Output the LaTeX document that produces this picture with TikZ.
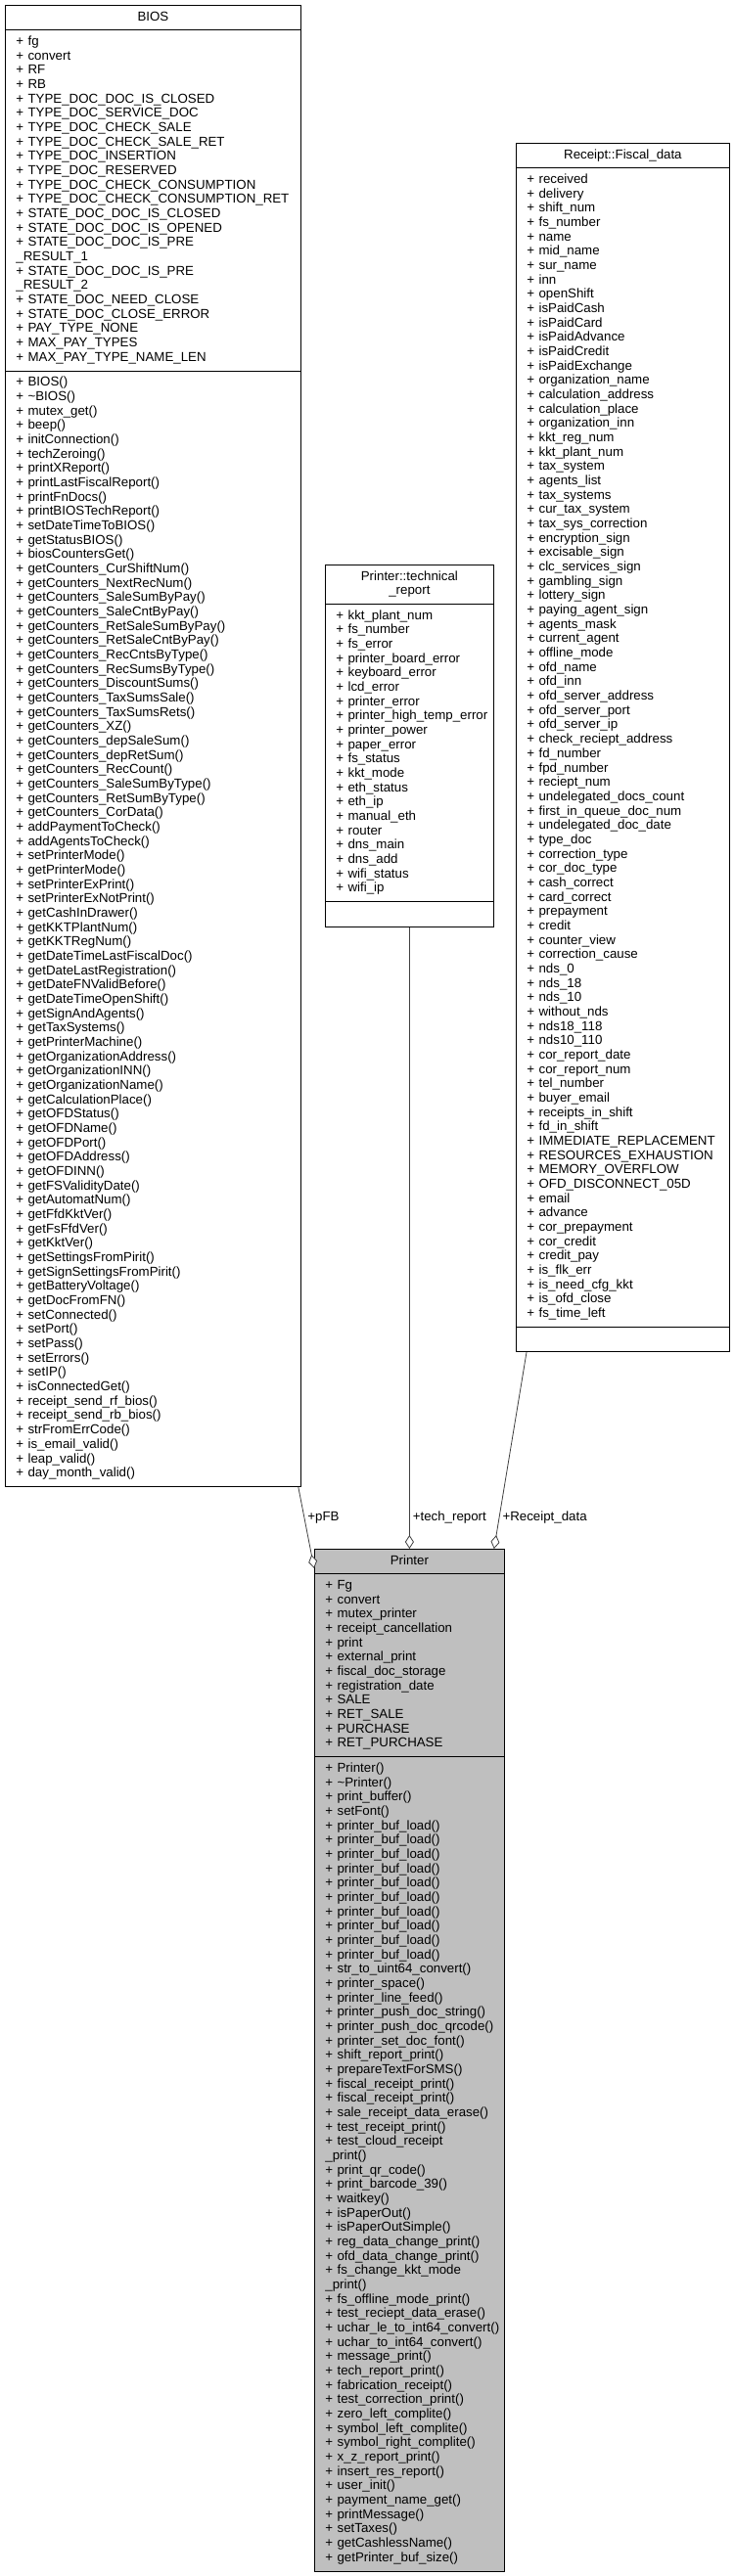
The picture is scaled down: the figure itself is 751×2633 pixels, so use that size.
\documentclass[tikz,border=0pt]{standalone}
\usepackage{fontspec}
\newfontfamily\classfont{Liberation Sans}
\usetikzlibrary{shapes.multipart,arrows.meta}

\definecolor{activefill}{HTML}{BFBFBF}
\definecolor{edgegray}{HTML}{404040}

% centred title of a class box
\newcommand{\classtitle}[1]{\hbox to\hsize{\hss\strut#1\hss}}

\tikzset{
  umlclass/.style={rectangle split, rectangle split parts=3, draw=black, line width=0.8pt,
    fill=white, inner xsep=11pt, inner ysep=5pt, align=left, anchor=north west,
    font=\classfont\fontsize{13.3pt}{14.67pt}\selectfont},
  member/.style={draw=edgegray, line width=0.8pt, -{Diamond[fill=white,length=14pt,width=9pt]}},
  rolename/.style={anchor=west, inner sep=3pt, text=black,
    font=\classfont\fontsize{13.3pt}{14.67pt}\selectfont}
}

\begin{document}
\begin{tikzpicture}[x=1pt,y=-1pt]
		\useasboundingbox (0,0) rectangle (751,2633);

		\coordinate (bios-nw) at (5,5);
		\coordinate (tech-nw) at (332,577);
		\coordinate (fiscal-nw) at (527,146);
		\coordinate (printer-nw) at (321,1583);

		% BIOS
		\node[umlclass, text width=280pt] (bios) at (bios-nw) {\classtitle{BIOS}
			\nodepart{second}\strut+~fg\\
			+~convert\\
			+~RF\\
			+~RB\\
			+~TYPE\_DOC\_DOC\_IS\_CLOSED\\
			+~TYPE\_DOC\_SERVICE\_DOC\\
			+~TYPE\_DOC\_CHECK\_SALE\\
			+~TYPE\_DOC\_CHECK\_SALE\_RET\\
			+~TYPE\_DOC\_INSERTION\\
			+~TYPE\_DOC\_RESERVED\\
			+~TYPE\_DOC\_CHECK\_CONSUMPTION\\
			+~TYPE\_DOC\_CHECK\_CONSUMPTION\_RET\\
			+~STATE\_DOC\_DOC\_IS\_CLOSED\\
			+~STATE\_DOC\_DOC\_IS\_OPENED\\
			+~STATE\_DOC\_DOC\_IS\_PRE\\
			\_RESULT\_1\\
			+~STATE\_DOC\_DOC\_IS\_PRE\\
			\_RESULT\_2\\
			+~STATE\_DOC\_NEED\_CLOSE\\
			+~STATE\_DOC\_CLOSE\_ERROR\\
			+~PAY\_TYPE\_NONE\\
			+~MAX\_PAY\_TYPES\\
			+~MAX\_PAY\_TYPE\_NAME\_LEN\strut
			\nodepart{third}\strut+~BIOS()\\
			+~\textasciitilde BIOS()\\
			+~mutex\_get()\\
			+~beep()\\
			+~initConnection()\\
			+~techZeroing()\\
			+~printXReport()\\
			+~printLastFiscalReport()\\
			+~printFnDocs()\\
			+~printBIOSTechReport()\\
			+~setDateTimeToBIOS()\\
			+~getStatusBIOS()\\
			+~biosCountersGet()\\
			+~getCounters\_CurShiftNum()\\
			+~getCounters\_NextRecNum()\\
			+~getCounters\_SaleSumByPay()\\
			+~getCounters\_SaleCntByPay()\\
			+~getCounters\_RetSaleSumByPay()\\
			+~getCounters\_RetSaleCntByPay()\\
			+~getCounters\_RecCntsByType()\\
			+~getCounters\_RecSumsByType()\\
			+~getCounters\_DiscountSums()\\
			+~getCounters\_TaxSumsSale()\\
			+~getCounters\_TaxSumsRets()\\
			+~getCounters\_XZ()\\
			+~getCounters\_depSaleSum()\\
			+~getCounters\_depRetSum()\\
			+~getCounters\_RecCount()\\
			+~getCounters\_SaleSumByType()\\
			+~getCounters\_RetSumByType()\\
			+~getCounters\_CorData()\\
			+~addPaymentToCheck()\\
			+~addAgentsToCheck()\\
			+~setPrinterMode()\\
			+~getPrinterMode()\\
			+~setPrinterExPrint()\\
			+~setPrinterExNotPrint()\\
			+~getCashInDrawer()\\
			+~getKKTPlantNum()\\
			+~getKKTRegNum()\\
			+~getDateTimeLastFiscalDoc()\\
			+~getDateLastRegistration()\\
			+~getDateFNValidBefore()\\
			+~getDateTimeOpenShift()\\
			+~getSignAndAgents()\\
			+~getTaxSystems()\\
			+~getPrinterMachine()\\
			+~getOrganizationAddress()\\
			+~getOrganizationINN()\\
			+~getOrganizationName()\\
			+~getCalculationPlace()\\
			+~getOFDStatus()\\
			+~getOFDName()\\
			+~getOFDPort()\\
			+~getOFDAddress()\\
			+~getOFDINN()\\
			+~getFSValidityDate()\\
			+~getAutomatNum()\\
			+~getFfdKktVer()\\
			+~getFsFfdVer()\\
			+~getKktVer()\\
			+~getSettingsFromPirit()\\
			+~getSignSettingsFromPirit()\\
			+~getBatteryVoltage()\\
			+~getDocFromFN()\\
			+~setConnected()\\
			+~setPort()\\
			+~setPass()\\
			+~setErrors()\\
			+~setIP()\\
			+~isConnectedGet()\\
			+~receipt\_send\_rf\_bios()\\
			+~receipt\_send\_rb\_bios()\\
			+~strFromErrCode()\\
			+~is\_email\_valid()\\
			+~leap\_valid()\\
			+~day\_month\_valid()\strut};

		% Printer::technical_report
		\node[umlclass, text width=150pt] (tech) at (tech-nw)
			{\classtitle{\begin{tabular}{@{}c@{}}Printer::technical\\\_report\end{tabular}}
			\nodepart{second}\strut+~kkt\_plant\_num\\
			+~fs\_number\\
			+~fs\_error\\
			+~printer\_board\_error\\
			+~keyboard\_error\\
			+~lcd\_error\\
			+~printer\_error\\
			+~printer\_high\_temp\_error\\
			+~printer\_power\\
			+~paper\_error\\
			+~fs\_status\\
			+~kkt\_mode\\
			+~eth\_status\\
			+~eth\_ip\\
			+~manual\_eth\\
			+~router\\
			+~dns\_main\\
			+~dns\_add\\
			+~wifi\_status\\
			+~wifi\_ip\strut
			\nodepart{third}\strut};

		% Receipt::Fiscal_data
		\node[umlclass, text width=196pt] (fiscal) at (fiscal-nw) {\classtitle{Receipt::Fiscal\_data}
			\nodepart{second}\strut+~received\\
			+~delivery\\
			+~shift\_num\\
			+~fs\_number\\
			+~name\\
			+~mid\_name\\
			+~sur\_name\\
			+~inn\\
			+~openShift\\
			+~isPaidCash\\
			+~isPaidCard\\
			+~isPaidAdvance\\
			+~isPaidCredit\\
			+~isPaidExchange\\
			+~organization\_name\\
			+~calculation\_address\\
			+~calculation\_place\\
			+~organization\_inn\\
			+~kkt\_reg\_num\\
			+~kkt\_plant\_num\\
			+~tax\_system\\
			+~agents\_list\\
			+~tax\_systems\\
			+~cur\_tax\_system\\
			+~tax\_sys\_correction\\
			+~encryption\_sign\\
			+~excisable\_sign\\
			+~clc\_services\_sign\\
			+~gambling\_sign\\
			+~lottery\_sign\\
			+~paying\_agent\_sign\\
			+~agents\_mask\\
			+~current\_agent\\
			+~offline\_mode\\
			+~ofd\_name\\
			+~ofd\_inn\\
			+~ofd\_server\_address\\
			+~ofd\_server\_port\\
			+~ofd\_server\_ip\\
			+~check\_reciept\_address\\
			+~fd\_number\\
			+~fpd\_number\\
			+~reciept\_num\\
			+~undelegated\_docs\_count\\
			+~first\_in\_queue\_doc\_num\\
			+~undelegated\_doc\_date\\
			+~type\_doc\\
			+~correction\_type\\
			+~cor\_doc\_type\\
			+~cash\_correct\\
			+~card\_correct\\
			+~prepayment\\
			+~credit\\
			+~counter\_view\\
			+~correction\_cause\\
			+~nds\_0\\
			+~nds\_18\\
			+~nds\_10\\
			+~without\_nds\\
			+~nds18\_118\\
			+~nds10\_110\\
			+~cor\_report\_date\\
			+~cor\_report\_num\\
			+~tel\_number\\
			+~buyer\_email\\
			+~receipts\_in\_shift\\
			+~fd\_in\_shift\\
			+~IMMEDIATE\_REPLACEMENT\\
			+~RESOURCES\_EXHAUSTION\\
			+~MEMORY\_OVERFLOW\\
			+~OFD\_DISCONNECT\_05D\\
			+~email\\
			+~advance\\
			+~cor\_prepayment\\
			+~cor\_credit\\
			+~credit\_pay\\
			+~is\_flk\_err\\
			+~is\_need\_cfg\_kkt\\
			+~is\_ofd\_close\\
			+~fs\_time\_left\strut
			\nodepart{third}\strut};

		% Printer
		\node[umlclass, fill=activefill, text width=172pt] (printer) at (printer-nw) {\classtitle{Printer}
			\nodepart{second}\strut+~Fg\\
			+~convert\\
			+~mutex\_printer\\
			+~receipt\_cancellation\\
			+~print\\
			+~external\_print\\
			+~fiscal\_doc\_storage\\
			+~registration\_date\\
			+~SALE\\
			+~RET\_SALE\\
			+~PURCHASE\\
			+~RET\_PURCHASE\strut
			\nodepart{third}\strut+~Printer()\\
			+~\textasciitilde Printer()\\
			+~print\_buffer()\\
			+~setFont()\\
			+~printer\_buf\_load()\\
			+~printer\_buf\_load()\\
			+~printer\_buf\_load()\\
			+~printer\_buf\_load()\\
			+~printer\_buf\_load()\\
			+~printer\_buf\_load()\\
			+~printer\_buf\_load()\\
			+~printer\_buf\_load()\\
			+~printer\_buf\_load()\\
			+~printer\_buf\_load()\\
			+~str\_to\_uint64\_convert()\\
			+~printer\_space()\\
			+~printer\_line\_feed()\\
			+~printer\_push\_doc\_string()\\
			+~printer\_push\_doc\_qrcode()\\
			+~printer\_set\_doc\_font()\\
			+~shift\_report\_print()\\
			+~prepareTextForSMS()\\
			+~fiscal\_receipt\_print()\\
			+~fiscal\_receipt\_print()\\
			+~sale\_receipt\_data\_erase()\\
			+~test\_receipt\_print()\\
			+~test\_cloud\_receipt\\
			\_print()\\
			+~print\_qr\_code()\\
			+~print\_barcode\_39()\\
			+~waitkey()\\
			+~isPaperOut()\\
			+~isPaperOutSimple()\\
			+~reg\_data\_change\_print()\\
			+~ofd\_data\_change\_print()\\
			+~fs\_change\_kkt\_mode\\
			\_print()\\
			+~fs\_offline\_mode\_print()\\
			+~test\_reciept\_data\_erase()\\
			+~uchar\_le\_to\_int64\_convert()\\
			+~uchar\_to\_int64\_convert()\\
			+~message\_print()\\
			+~tech\_report\_print()\\
			+~fabrication\_receipt()\\
			+~test\_correction\_print()\\
			+~zero\_left\_complite()\\
			+~symbol\_left\_complite()\\
			+~symbol\_right\_complite()\\
			+~x\_z\_report\_print()\\
			+~insert\_res\_report()\\
			+~user\_init()\\
			+~payment\_name\_get()\\
			+~printMessage()\\
			+~setTaxes()\\
			+~getCashlessName()\\
			+~getPrinter\_buf\_size()\strut};

		% aggregations
		\draw[member] ([xshift=-3pt]bios.south east) -- ([yshift=-20pt]printer.north west)
			node[rolename, pos=0.38] {+pFB};
		\draw[member] (tech.south) -- (printer.north)
			node[rolename, pos=0.95] {+tech\_report};
		\draw[member] ([xshift=11pt]fiscal.south west) -- ([xshift=-11pt]printer.north east)
			node[rolename, pos=0.84] {+Receipt\_data};
	\end{tikzpicture}
\end{document}
